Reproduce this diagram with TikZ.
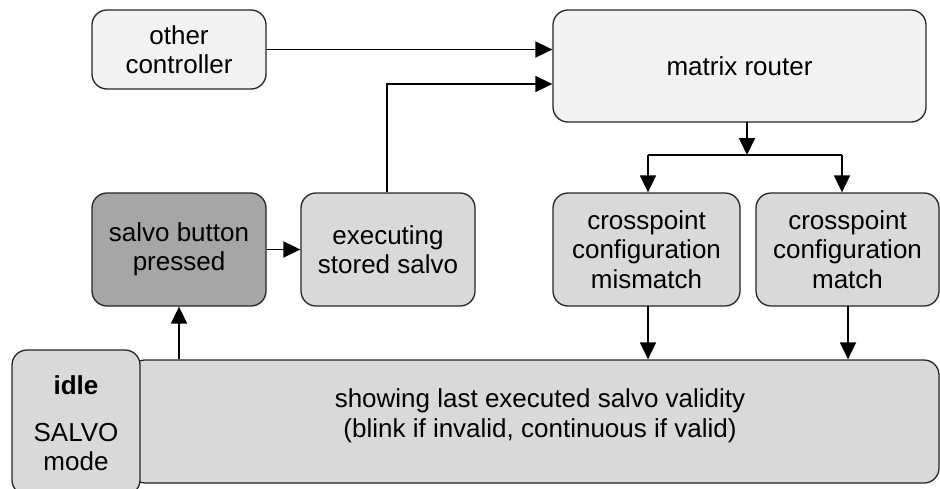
\documentclass[tikz,border=0pt]{standalone}
\usepackage{fontspec}
\setmainfont{Liberation Sans}
\usetikzlibrary{arrows.meta,calc}
\definecolor{lightfill}{HTML}{F2F2F2}
\definecolor{midfill}{HTML}{D9D9D9}
\definecolor{darkfill}{HTML}{A6A6A6}
\definecolor{edge}{HTML}{262626}
\tikzset{
  box/.style={draw=edge, line width=1.3pt, rounded corners=15pt, align=center,
    inner sep=0pt, font=\fontsize{26}{29.5}\selectfont},
  arr/.style={line width=1.8pt, -{Triangle[length=17pt,width=16pt]}},
  ln/.style={line width=1.8pt},
}
\begin{document}
\begin{tikzpicture}[x=1pt,y=-1pt]
\clip (0,0) rectangle (940,488);
\fill[white] (0,0) rectangle (940,488);
% boxes
\node[box, fill=lightfill, minimum width=174pt, minimum height=79pt] (other) at (179,49.5) {other\\controller};
\node[box, fill=lightfill, minimum width=373pt, minimum height=112pt] (router) at (739.5,66) {matrix router};
\node[box, fill=darkfill, minimum width=174pt, minimum height=113pt] (salvo) at (179,249.5) {salvo button\\pressed};
\node[box, fill=midfill, minimum width=174pt, minimum height=113pt] (exec) at (388,249.5) {executing\\stored salvo};
\node[box, fill=midfill, minimum width=187pt, minimum height=113pt] (mis) at (646.5,249.5) {crosspoint\\configuration\\mismatch};
\node[box, fill=midfill, minimum width=183pt, minimum height=113pt] (mat) at (847.5,249.5) {crosspoint\\configuration\\match};
\node[box, fill=midfill, minimum width=809pt, minimum height=123pt] (big) at (534.5,421.5) {};
\node[font=\fontsize{26}{29.5}\selectfont, align=center] (bigtext) at (540,416) {showing last executed salvo validity\\(blink if invalid, continuous if valid)};
\node[box, fill=midfill, minimum width=128pt, minimum height=145pt] (idle) at (76,422.5) {};
\node[font=\fontsize{26}{29.5}\selectfont\bfseries] (idlet) at (76,385) {idle};
\node[font=\fontsize{26}{29.5}\selectfont, align=center] (modet) at (76,447) {SALVO\\mode};
% connectors
\draw[arr] (other.east) -- (other.east -| router.west);
\coordinate (r2) at ($(router.west)+(0,18)$);
\draw[arr] ($(exec.north)+(-1,0)$) |- (r2);
\coordinate (rs) at (747,122);
\coordinate (split) at (747,155);
\coordinate (sl) at (648,155);
\coordinate (sr) at (842,155);
\draw[arr] (rs) -- (split);
\draw[ln] (sl) -- (sr);
\draw[arr] (sl) -- (sl |- mis.north);
\draw[arr] (sr) -- (sr |- mat.north);
\coordinate (mb) at (648,306);
\coordinate (tb) at (848,306);
\draw[arr] (mb) -- (mb |- big.north);
\draw[arr] (tb) -- (tb |- big.north);
\draw[arr] (salvo.south |- big.north) -- (salvo.south);
\draw[arr] (salvo.east) -- (exec.west);
\end{tikzpicture}
\end{document}
